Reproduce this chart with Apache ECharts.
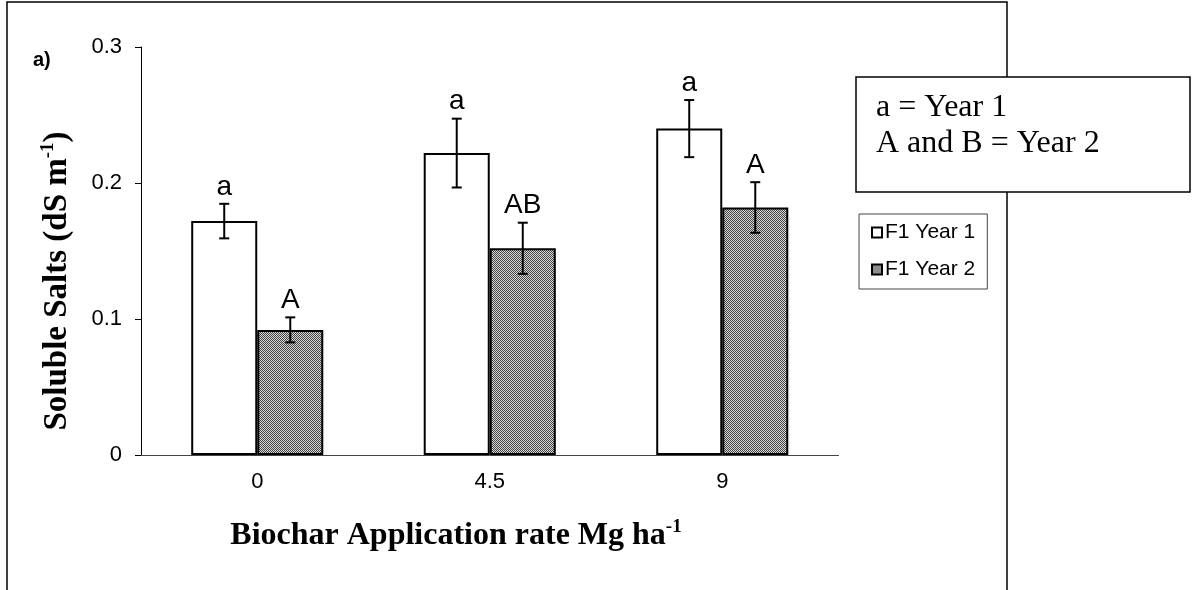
<!DOCTYPE html>
<html>
<head>
    <meta charset="utf-8">
    <title>Soluble Salts</title>
    <script src="https://cdn.jsdelivr.net/npm/echarts@6.0.0/dist/echarts.min.js"></script>
    <style>
        html, body {
            margin: 0;
            padding: 0;
            background: #ffffff;
        }

        #chart {
            width: 1195px;
            height: 590px;
        }
    </style>
</head>
<body>
<div id="chart"></div>
<script>
    // 数据
    var categories = ['0', '4.5', '9'];
    var year1 = [0.172, 0.222, 0.240];
    var year2 = [0.092, 0.152, 0.182];
    var year1Err = [0.0127, 0.0253, 0.0210];
    var year2Err = [0.0092, 0.0188, 0.0186];
    var year1Letters = ['a', 'a', 'a'];
    var year2Letters = ['A', 'AB', 'A'];
    var yTicks = [0, 0.1, 0.2, 0.3];

    var barRatio = 0.284;
    var sansFont = '"Liberation Sans", Arial, sans-serif';
    var serifFont = '"Liberation Serif", "Times New Roman", serif';

    // 灰色网点填充
    function dotPattern() {
        var c = document.createElement('canvas');
        c.width = 4;
        c.height = 4;
        var ctx = c.getContext('2d');
        for (var i = 0; i < 4; i++) {
            for (var j = 0; j < 4; j++) {
                ctx.fillStyle = (i + j) % 2 === 0 ? '#444444' : '#d8d8d8';
                ctx.fillRect(i, j, 1, 1);
            }
        }
        return {image: c, repeat: 'repeat'};
    }

    var grayFill = dotPattern();

    function errorSeries(values, errs, letters, side) {
        return {
            type: 'custom',
            z: 10,
            silent: true,
            encode: {x: 0, y: 1},
            data: values.map(function (v, k) {
                return [k, v, errs[k]];
            }),
            renderItem: function (params, api) {
                var i = api.value(0);
                var band = api.size([1, 0])[0];
                var bw = band * barRatio;
                var cx = api.coord([i, 0])[0] + side * bw / 2;
                var top = api.coord([i, api.value(1) + api.value(2)])[1];
                var bot = api.coord([i, api.value(1) - api.value(2)])[1];
                var lineStyle = {stroke: '#000', lineWidth: 2};
                return {
                    type: 'group',
                    children: [
                        {type: 'line', shape: {x1: cx, y1: top, x2: cx, y2: bot}, style: lineStyle},
                        {type: 'line', shape: {x1: cx - 5, y1: top, x2: cx + 5, y2: top}, style: lineStyle},
                        {type: 'line', shape: {x1: cx - 5, y1: bot, x2: cx + 5, y2: bot}, style: lineStyle},
                        {
                            type: 'text',
                            x: cx,
                            y: top - 3,
                            style: {
                                text: letters[params.dataIndex],
                                font: '28px ' + sansFont,
                                fill: '#000',
                                align: 'center',
                                verticalAlign: 'bottom'
                            }
                        }
                    ]
                };
            }
        };
    }

    var chart = echarts.init(document.getElementById('chart'), null, {renderer: 'canvas'});

    var option = {
        animation: false,
        backgroundColor: '#ffffff',
        grid: {
            left: 141,
            right: 356.5,
            top: 47,
            bottom: 135
        },
        legend: {
            data: ['F1 Year 1', 'F1 Year 2'],
            orient: 'vertical',
            left: 859,
            top: 214,
            padding: [8, 12, 9, 12],
            itemGap: 16,
            itemWidth: 10,
            itemHeight: 10,
            icon: 'rect',
            borderColor: '#444',
            borderWidth: 1,
            textStyle: {
                fontFamily: sansFont,
                fontSize: 21,
                color: '#000',
                padding: [0, 0, 0, -2]
            }
        },
        xAxis: {
            type: 'category',
            data: categories,
            axisLine: {lineStyle: {color: '#444', width: 1}},
            axisTick: {length: 7, lineStyle: {color: '#444'}},
            axisLabel: {
                fontFamily: sansFont,
                fontSize: 22,
                color: '#000',
                margin: 16
            }
        },
        yAxis: {
            type: 'value',
            min: yTicks[0],
            max: yTicks[yTicks.length - 1],
            interval: 0.1,
            splitLine: {show: false},
            axisLine: {show: true, lineStyle: {color: '#000', width: 1}},
            axisTick: {show: true, length: 6, lineStyle: {color: '#000'}},
            axisLabel: {
                fontFamily: sansFont,
                fontSize: 22,
                color: '#000',
                margin: 19
            }
        },
        series: [
            {
                name: 'F1 Year 1',
                type: 'bar',
                data: year1,
                barWidth: (barRatio * 100) + '%',
                barGap: '0%',
                itemStyle: {color: '#ffffff', borderColor: '#000', borderWidth: 2}
            },
            {
                name: 'F1 Year 2',
                type: 'bar',
                data: year2,
                barWidth: (barRatio * 100) + '%',
                barGap: '0%',
                itemStyle: {color: grayFill, borderColor: '#000', borderWidth: 2}
            },
            errorSeries(year1, year1Err, year1Letters, -1),
            errorSeries(year2, year2Err, year2Letters, 1)
        ],
        graphic: [
            {
                type: 'rect',
                shape: {x: 7, y: 2, width: 1000, height: 640},
                style: {fill: 'none', stroke: '#000', lineWidth: 1.5},
                silent: true
            },
            {
                type: 'rect',
                shape: {x: 856, y: 77, width: 334, height: 115},
                style: {fill: '#fff', stroke: '#000', lineWidth: 1.5},
                silent: true
            },
            {
                type: 'text',
                x: 876,
                y: 108,
                style: {
                    text: 'a = Year 1',
                    font: '32px ' + serifFont,
                    fill: '#000',
                    verticalAlign: 'middle'
                }
            },
            {
                type: 'text',
                x: 876,
                y: 144,
                style: {
                    text: 'A and B = Year 2',
                    font: '32px ' + serifFont,
                    fill: '#000',
                    verticalAlign: 'middle'
                }
            },
            {
                type: 'text',
                x: 33,
                y: 60,
                style: {
                    text: 'a)',
                    font: 'bold 20px ' + sansFont,
                    fill: '#000',
                    verticalAlign: 'middle'
                }
            },
            {
                // y轴标题
                type: 'text',
                x: 57,
                y: 281,
                rotation: Math.PI / 2,
                style: {
                    text: '{t|Soluble Salts (dS m}{s|-1}{t|)}',
                    align: 'center',
                    verticalAlign: 'middle',
                    rich: {
                        t: {font: 'bold 33px ' + serifFont, fill: '#000', lineHeight: 36},
                        s: {font: 'bold 19px ' + serifFont, fill: '#000', verticalAlign: 'top', lineHeight: 19}
                    }
                }
            },
            {
                // x轴标题
                type: 'text',
                x: 456,
                y: 536,
                style: {
                    text: '{t|Biochar Application rate Mg ha}{s|-1}',
                    align: 'center',
                    verticalAlign: 'middle',
                    rich: {
                        t: {font: 'bold 32px ' + serifFont, fill: '#000', lineHeight: 36},
                        s: {font: 'bold 19px ' + serifFont, fill: '#000', verticalAlign: 'top', lineHeight: 19}
                    }
                }
            }
        ]
    };

    chart.setOption(option);

    window.onresize = function () {
        chart.resize();
    };
</script>
</body>
</html>
